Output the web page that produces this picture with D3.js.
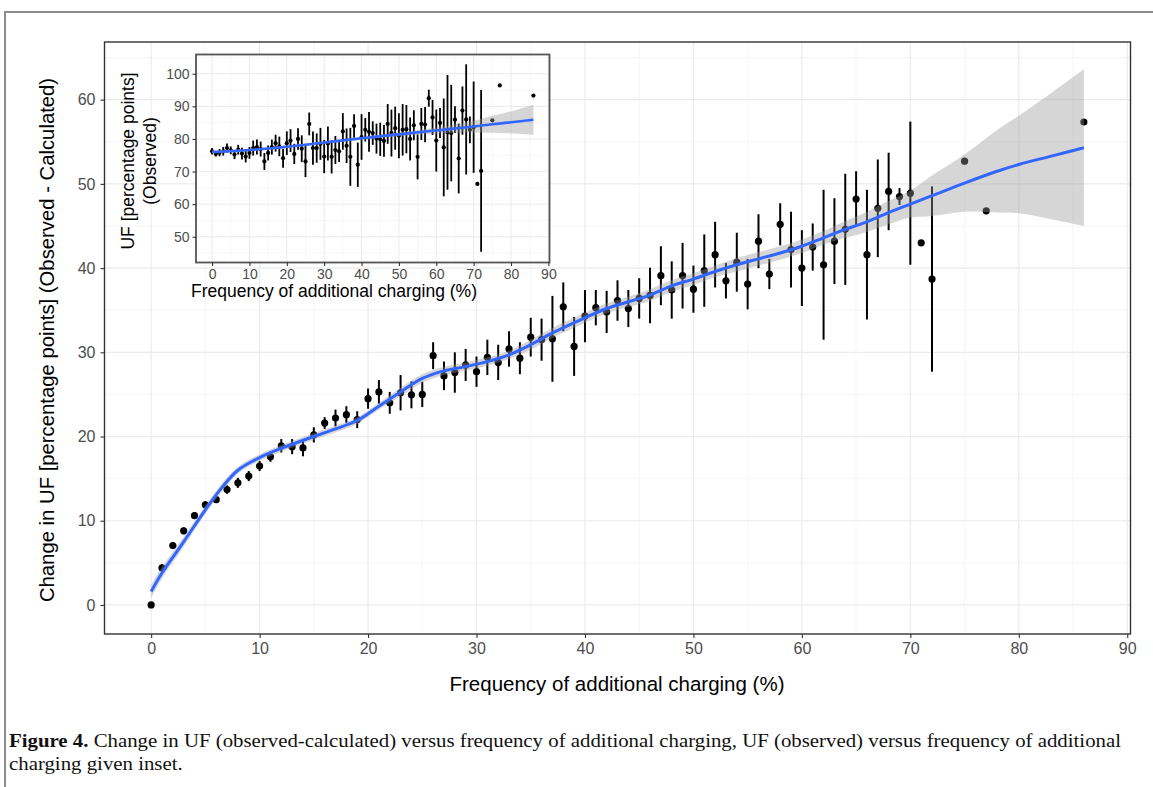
<!DOCTYPE html>
<html>
<head>
<meta charset="utf-8">
<script src="https://cdn.jsdelivr.net/npm/d3@7"></script>
<style>
  html, body { margin: 0; padding: 0; background: #fff; }
  svg { display: block; }
</style>
</head>
<body>
<svg id="chart" width="1153" height="787"></svg>
<script>
// ---------------- DATA ----------------
// Main chart: change in UF (observed - calculated) vs frequency of additional charging
const mainX = [0,1,2,3,4,5,6,7,8,9,10,11,12,13,14,15,16,17,18,19,20,21,22,23,24,25,26,27,28,29,30,31,32,33,34,35,36,37,38,39,40,41,42,43,44,45,46,47,48,49,50,51,52,53,54,55,56,57,58,59,60,61,62,63,64,65,66,67,68,69,70,71,72,75,77,86];
const mainY = [0.0,4.4,7.05,8.8,10.6,11.9,12.5,13.7,14.5,15.3,16.5,17.6,18.9,18.8,18.65,20.2,21.6,22.2,22.6,22.0,24.5,25.3,24.0,25.2,24.95,25.0,29.6,27.2,27.6,28.5,27.7,29.4,28.8,30.4,29.3,31.8,31.5,31.6,35.4,30.7,34.3,35.3,34.8,36.15,35.2,36.4,36.75,39.1,37.4,39.1,37.5,39.7,41.6,38.5,40.7,38.1,43.2,39.3,45.2,42.2,40.0,42.5,40.4,43.2,44.6,48.2,41.6,47.1,49.1,48.5,48.9,43.0,38.7,52.7,46.8,57.35];
const mainErr = [0.3,0.4,0.4,0.4,0.4,0.4,0.4,0.5,0.6,0.6,0.6,0.6,0.8,0.9,1.0,0.9,0.7,1.0,1.0,1.0,1.2,1.4,1.3,2.1,1.6,1.5,1.6,1.7,2.4,1.9,1.8,2.1,2.1,2.1,1.9,2.3,2.5,5.1,2.9,3.5,3.1,2.1,2.5,2.4,2.2,2.4,3.3,3.5,3.4,3.9,2.8,4.3,3.9,2.1,3.5,3.0,3.2,1.8,2.5,4.5,4.5,2.8,8.9,5.1,6.6,3.3,7.7,5.8,4.6,1.0,8.5,0,11.0,0,0,0];

// Main smoother (fitted curve and its standard-error half width)
const smoothX  = [0,1,3,5,6.5,8,10,12,15,17,19,21,23,25,27,29,31,33,35,37,40,42,44,46,48,50,52,54,56,58,60,62,64,66,68,70,72,75,78,80,83,86];
const smoothY  = [1.6,3.8,7.5,11.3,13.9,16.0,17.5,18.6,20.0,20.9,21.9,23.6,25.3,26.9,27.8,28.3,28.9,29.7,30.9,32.3,34.1,35.2,36.0,36.8,37.9,38.7,39.6,40.4,41.1,41.8,42.6,43.6,44.6,45.5,46.6,47.6,48.6,50.1,51.5,52.3,53.3,54.3];
const smoothSE = [0.8,0.7,0.6,0.5,0.5,0.4,0.4,0.4,0.4,0.4,0.4,0.4,0.5,0.5,0.5,0.5,0.5,0.5,0.6,0.6,0.6,0.6,0.6,0.7,0.7,0.7,0.7,0.8,0.8,0.8,0.8,0.8,1.0,1.2,1.4,1.6,2.4,3.4,4.9,5.8,7.5,9.3];

// Inset: UF (observed) vs frequency of additional charging
const insetX = [0,1,2,3,4,5,6,7,8,9,10,11,12,13,14,15,16,17,18,19,20,21,22,23,24,25,26,27,28,29,30,31,32,33,34,35,36,37,38,39,40,41,42,43,44,45,46,47,48,49,50,51,52,53,54,55,56,57,58,59,60,61,62,63,64,65,66,67,68,69,70,71,72,75,77,86];
const insetY = [76.2,75.4,75.8,76.2,77.2,76.5,75.2,76.7,75.5,74.6,75.7,77.2,77.5,76.9,73.1,75.7,77.5,78.7,77.7,74.1,78.7,79.5,75.4,80.0,77.0,73.1,84.6,77.2,77.2,78.5,74.6,78.6,74.5,76.6,76.2,82.3,77.9,74.5,84.0,72.1,80.6,82.8,82.2,81.8,80.1,79.9,79.4,84.6,81.8,83.3,81.0,82.8,83.0,80.0,84.2,74.5,84.6,84.4,92.5,86.6,79.5,84.9,77.4,82.0,81.8,85.9,74.0,88.7,86.0,82.8,83.6,66.2,70.2,85.7,96.4,93.3];
const insetErr = [1.0,0.8,1.1,1.3,1.4,1.2,1.4,1.5,1.8,1.8,1.8,2.3,2.3,2.3,2.6,2.3,2.3,2.6,3.0,2.9,3.6,3.5,3.1,3.3,4.1,4.8,3.5,5.1,4.5,4.9,5.1,5.2,5.1,4.3,3.3,5.6,5.3,8.9,3.6,6.8,7.0,3.6,6.1,3.6,4.6,5.1,4.9,6.1,7.2,6.6,6.9,7.9,7.4,6.6,4.6,6.9,4.9,5.4,2.6,5.4,9.5,4.6,15.0,17.6,14.8,4.1,10.7,7.4,16.9,4.1,14.0,0,24.8,0,0,0];

const insetSmoothX  = [0,10,20,30,40,50,60,70,75,80,86];
const insetSmoothY  = [76.0,76.6,77.6,78.9,80.2,81.4,82.6,83.8,84.5,85.1,85.9];
const insetSmoothSE = [0.5,0.4,0.4,0.4,0.5,0.6,0.9,1.8,2.6,3.4,4.6];

// Ticks and labels
const mainXTicks = [0,10,20,30,40,50,60,70,80,90];
const mainXMinor = [5,15,25,35,45,55,65,75,85];
const mainYTicks = [0,10,20,30,40,50,60];
const mainYMinor = [-5,5,15,25,35,45,55,65];
const insetXTicks = [0,10,20,30,40,50,60,70,80,90];
const insetXMinor = [5,15,25,35,45,55,65,75,85];
const insetYTicks = [50,60,70,80,90,100];
const insetYMinor = [45,55,65,75,85,95,105];

const mainXLabel = "Frequency of additional charging (%)";
const mainYLabel = "Change in UF [percentage points] (Observed - Calculated)";
const insetXLabel = "Frequency of additional charging (%)";
const insetYLabel1 = "UF [percentage points]";
const insetYLabel2 = "(Observed)";
const captionBold = "Figure 4.";
const captionLine1 = " Change in UF (observed-calculated) versus frequency of additional charging, UF (observed) versus frequency of additional";
const captionLine2 = "charging given inset.";

// ---------------- DRAW ----------------
const svg = d3.select("#chart");
const SANS = "'Liberation Sans', Arial, Helvetica, sans-serif";
const SERIF = "'Liberation Serif', 'Times New Roman', serif";

// page frame
svg.append("path").attr("d", "M5,787 L5,12 L1153,12")
  .attr("fill", "none").attr("stroke", "#8c8c8c").attr("stroke-width", 2);

function panel(g, cfg) {
  const x = d3.scaleLinear().domain(cfg.xDomain).range([cfg.left, cfg.right]);
  const y = d3.scaleLinear().domain(cfg.yDomain).range([cfg.bottom, cfg.top]);
  if (cfg.bg) {
    g.append("rect").attr("x", cfg.left).attr("y", cfg.top)
      .attr("width", cfg.right - cfg.left).attr("height", cfg.bottom - cfg.top)
      .attr("fill", "#fff");
  }
  const grid = g.append("g");
  const clipX = v => v >= cfg.xDomain[0] && v <= cfg.xDomain[1];
  const clipY = v => v >= cfg.yDomain[0] && v <= cfg.yDomain[1];
  grid.selectAll(".vx").data(cfg.xMinor.filter(clipX)).join("line")
    .attr("x1", d => x(d)).attr("x2", d => x(d)).attr("y1", cfg.top).attr("y2", cfg.bottom)
    .attr("stroke", "#f2f2f2").attr("stroke-width", cfg.minorW);
  grid.selectAll(".hy").data(cfg.yMinor.filter(clipY)).join("line")
    .attr("y1", d => y(d)).attr("y2", d => y(d)).attr("x1", cfg.left).attr("x2", cfg.right)
    .attr("stroke", "#f2f2f2").attr("stroke-width", cfg.minorW);
  grid.selectAll(".vX").data(cfg.xTicks.filter(clipX)).join("line")
    .attr("x1", d => x(d)).attr("x2", d => x(d)).attr("y1", cfg.top).attr("y2", cfg.bottom)
    .attr("stroke", "#ebebeb").attr("stroke-width", cfg.majorW);
  grid.selectAll(".hY").data(cfg.yTicks.filter(clipY)).join("line")
    .attr("y1", d => y(d)).attr("y2", d => y(d)).attr("x1", cfg.left).attr("x2", cfg.right)
    .attr("stroke", "#ebebeb").attr("stroke-width", cfg.majorW);

  // error bars
  g.append("g").selectAll("line").data(cfg.px.map((d, i) => ({x: d, y: cfg.py[i], e: cfg.pe[i]})).filter(d => d.e > 0))
    .join("line")
    .attr("x1", d => x(d.x)).attr("x2", d => x(d.x))
    .attr("y1", d => y(d.y - d.e)).attr("y2", d => y(d.y + d.e))
    .attr("stroke", "#000").attr("stroke-width", cfg.barW);
  // points
  g.append("g").selectAll("circle").data(cfg.px.map((d, i) => ({x: d, y: cfg.py[i]})))
    .join("circle")
    .attr("cx", d => x(d.x)).attr("cy", d => y(d.y)).attr("r", cfg.r).attr("fill", "#000");

  // ribbon + smooth line
  const sm = cfg.sx.map((d, i) => ({x: d, y: cfg.sy[i], se: cfg.sse[i]}));
  g.append("path").datum(sm)
    .attr("d", d3.area().curve(d3.curveCatmullRom.alpha(0.5))
      .x(d => x(d.x)).y0(d => y(d.y - d.se)).y1(d => y(d.y + d.se)))
    .attr("fill", "#999999").attr("fill-opacity", 0.4);
  g.append("path").datum(sm)
    .attr("d", d3.line().curve(d3.curveCatmullRom.alpha(0.5)).x(d => x(d.x)).y(d => y(d.y)))
    .attr("fill", "none").attr("stroke", "#3366FF").attr("stroke-width", cfg.lineW)
    .attr("stroke-linecap", "butt");

  // border
  g.append("rect").attr("x", cfg.left).attr("y", cfg.top)
    .attr("width", cfg.right - cfg.left).attr("height", cfg.bottom - cfg.top)
    .attr("fill", "none").attr("stroke", cfg.borderC).attr("stroke-width", cfg.borderW);

  // axes
  const xAxis = d3.axisBottom(x).tickValues(cfg.xTicks).tickSize(cfg.tick).tickPadding(cfg.pad).tickFormat(d3.format("d"));
  const yAxis = d3.axisLeft(y).tickValues(cfg.yTicks).tickSize(cfg.tick).tickPadding(cfg.pad).tickFormat(d3.format("d"));
  const gx = g.append("g").attr("transform", `translate(0,${cfg.bottom})`).call(xAxis);
  const gy = g.append("g").attr("transform", `translate(${cfg.left},0)`).call(yAxis);
  [gx, gy].forEach(a => {
    a.select(".domain").remove();
    a.selectAll(".tick line").attr("stroke", "#333").attr("stroke-width", 1.1);
    a.selectAll(".tick text").attr("fill", "#4d4d4d")
      .style("font-family", SANS).style("font-size", cfg.tickFs + "px");
  });
  return {x, y};
}

// main panel
const main = svg.append("g");
panel(main, {
  left: 104.5, right: 1130.5, top: 42, bottom: 634,
  xDomain: [-4.3, 90.3], yDomain: [-3.45, 66.85],
  xTicks: mainXTicks, xMinor: mainXMinor, yTicks: mainYTicks, yMinor: mainYMinor,
  px: mainX, py: mainY, pe: mainErr,
  sx: smoothX, sy: smoothY, sse: smoothSE,
  r: 3.6, barW: 2, lineW: 3, majorW: 1.2, minorW: 0.7,
  borderC: "#333", borderW: 1.4, tick: 4, pad: 5, tickFs: 16, bg: false
});
main.append("text").attr("x", 617).attr("y", 691).attr("text-anchor", "middle")
  .style("font-family", SANS).style("font-size", "20.5px").attr("fill", "#000").text(mainXLabel);
main.append("text").attr("transform", "translate(54,340) rotate(-90)").attr("text-anchor", "middle")
  .style("font-family", SANS).style("font-size", "20.3px").attr("fill", "#000").text(mainYLabel);

// inset panel
const inset = svg.append("g");
panel(inset, {
  left: 196, right: 549.5, top: 54.5, bottom: 262.5,
  xDomain: [-4.3, 90.3], yDomain: [42.1, 105.9],
  xTicks: insetXTicks, xMinor: insetXMinor, yTicks: insetYTicks, yMinor: insetYMinor,
  px: insetX, py: insetY, pe: insetErr,
  sx: insetSmoothX, sy: insetSmoothY, sse: insetSmoothSE,
  r: 2.1, barW: 1.8, lineW: 2.6, majorW: 1.0, minorW: 0.6,
  borderC: "#555", borderW: 1.8, tick: 3.5, pad: 3, tickFs: 14, bg: true
});
inset.append("text").attr("x", 334).attr("y", 297).attr("text-anchor", "middle")
  .style("font-family", SANS).style("font-size", "17.5px").attr("fill", "#000").text(insetXLabel);
inset.append("text").attr("transform", "translate(134,161) rotate(-90)").attr("text-anchor", "middle")
  .style("font-family", SANS).style("font-size", "17.5px").attr("fill", "#000").text(insetYLabel1);
inset.append("text").attr("transform", "translate(156,161) rotate(-90)").attr("text-anchor", "middle")
  .style("font-family", SANS).style("font-size", "17.5px").attr("fill", "#000").text(insetYLabel2);

// caption (condensed serif: fit printed line length)
const capFs = 18.5;
const cap1 = svg.append("text").attr("x", 9).attr("y", 747)
  .style("font-family", SERIF).style("font-size", capFs + "px").attr("fill", "#111");
cap1.append("tspan").style("font-weight", "bold").text(captionBold);
cap1.append("tspan").text(captionLine1);
const cap2 = svg.append("text").attr("x", 9).attr("y", 770)
  .style("font-family", SERIF).style("font-size", capFs + "px").attr("fill", "#111").text(captionLine2);
const targetW = 1112;
const w1 = cap1.node().getComputedTextLength();
const w2 = cap2.node().getComputedTextLength();
const squeeze = targetW / w1;
cap1.attr("textLength", targetW).attr("lengthAdjust", "spacingAndGlyphs");
cap2.attr("textLength", w2 * squeeze).attr("lengthAdjust", "spacingAndGlyphs");
</script>
</body>
</html>
